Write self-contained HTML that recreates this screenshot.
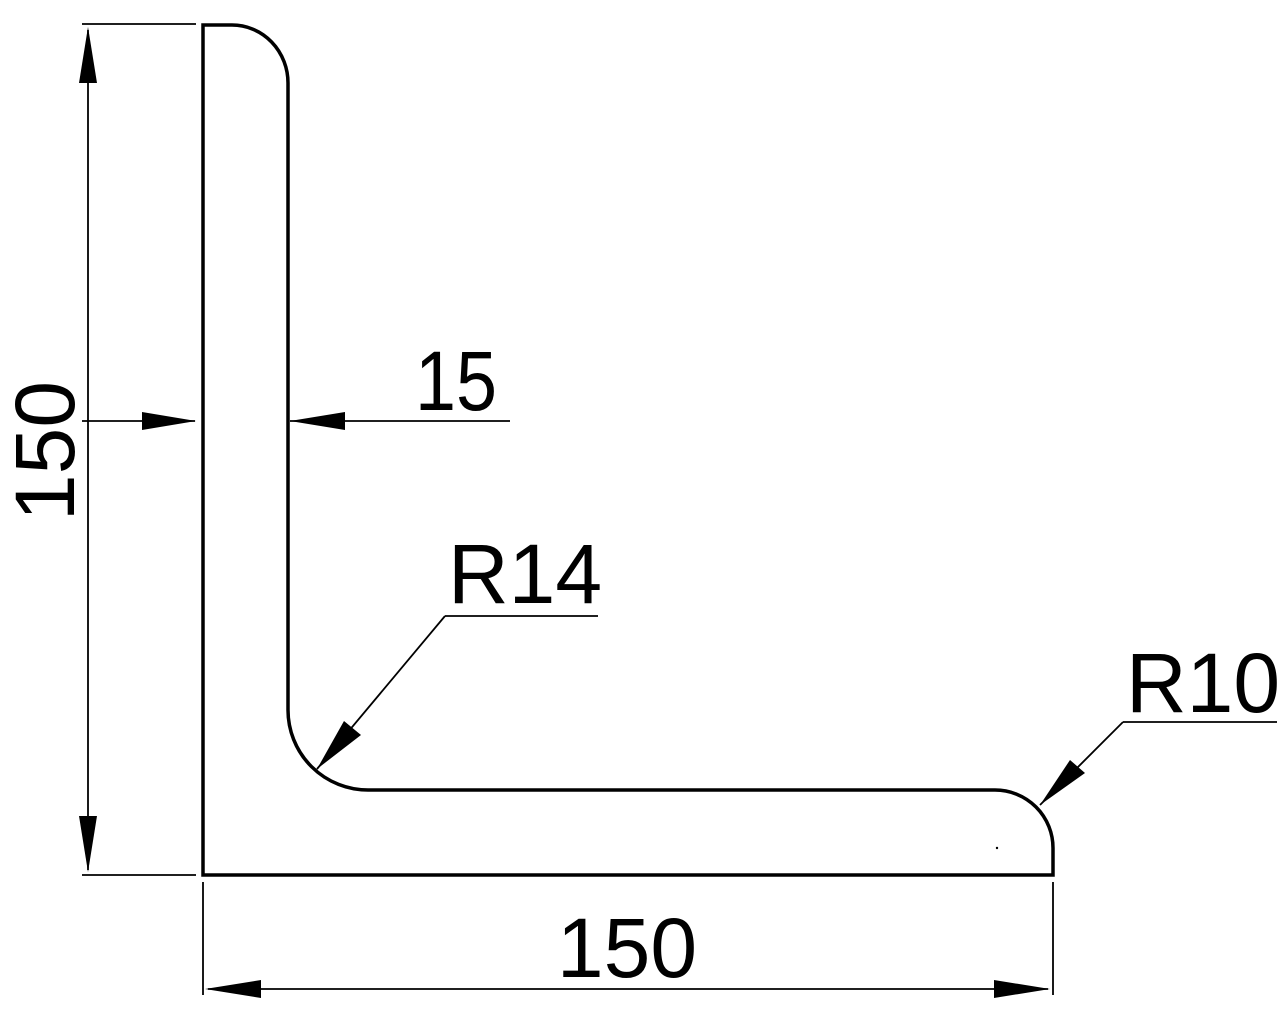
<!DOCTYPE html>
<html><head><meta charset="utf-8"><style>html,body{margin:0;padding:0;background:#fff}svg{display:block}</style></head>
<body>
<svg width="1280" height="1024" viewBox="0 0 1280 1024" xmlns="http://www.w3.org/2000/svg">
<g fill="none" stroke="#000">
<path d="M203,25 L232,25 A56,58 0 0 1 288,83 L288,710 A80,80 0 0 0 368,790 L995,790 A58,58 0 0 1 1053,848 L1053,875 L203,875 Z" stroke-width="3.5"/>
<g stroke-width="1.8">
<line x1="82" y1="24" x2="196" y2="24"/>
<line x1="82" y1="875" x2="196" y2="875"/>
<line x1="88" y1="30" x2="88" y2="870"/>
<line x1="203" y1="882" x2="203" y2="995"/>
<line x1="1053" y1="882" x2="1053" y2="995"/>
<line x1="208" y1="989" x2="1048" y2="989"/>
<line x1="82" y1="421" x2="195" y2="421"/>
<line x1="290" y1="421" x2="510" y2="421"/>
<line x1="317" y1="769" x2="445" y2="616"/>
<line x1="445" y1="616" x2="598" y2="616"/>
<line x1="1040" y1="805" x2="1123" y2="722"/>
<line x1="1123" y1="722" x2="1277" y2="722"/>
</g>
</g>
<g fill="#000">
<polygon points="88,27 79,83 97,83"/>
<polygon points="88,872 79,816 97,816"/>
<polygon points="205,989 261,980 261,998"/>
<polygon points="1050,989 994,980 994,998"/>
<polygon points="196,421 142,412 142,430"/>
<polygon points="290,421 345,412 345,430"/>
<polygon points="317,769 344,721 361,735"/>
<polygon points="1040,805 1070,760 1085,773"/>
</g>
<g font-family="Liberation Sans, sans-serif" font-size="84" fill="#000">
<text x="456" y="410" text-anchor="middle" textLength="82" lengthAdjust="spacingAndGlyphs">15</text>
<text x="525" y="603" text-anchor="middle">R14</text>
<text x="1203" y="712" text-anchor="middle">R10</text>
<text x="627" y="977" text-anchor="middle">150</text>
<text transform="translate(74,451) rotate(-90)" text-anchor="middle">150</text>
</g>
<circle cx="997" cy="848" r="1.2" fill="#000"/>
</svg>
</body></html>
